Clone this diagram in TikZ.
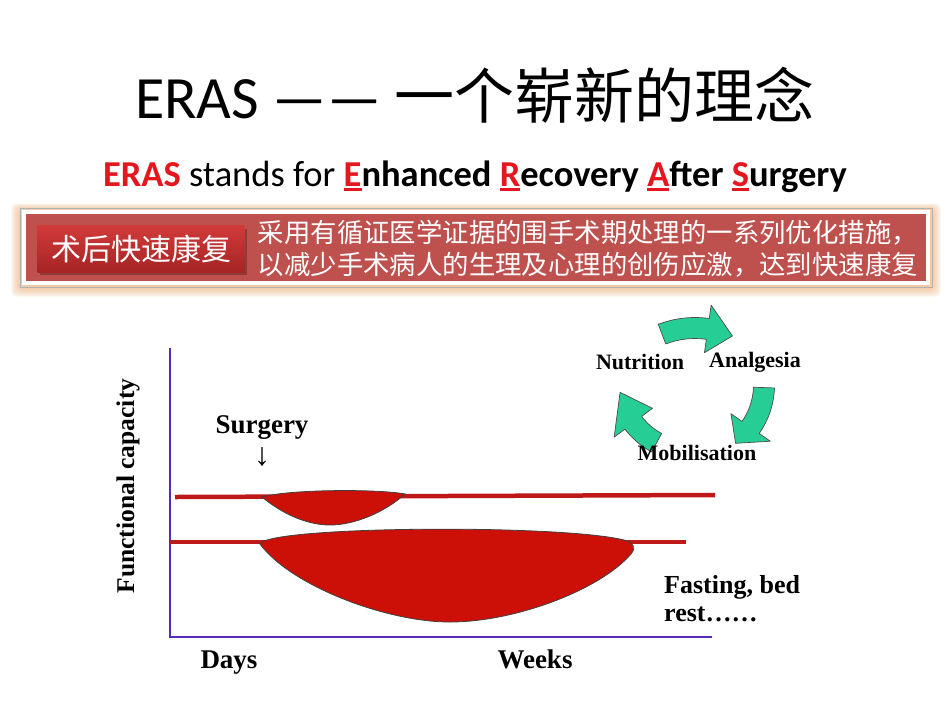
\documentclass[tikz,border=0pt]{standalone}
\usepackage{fontspec}
\setmainfont{Liberation Serif}
\newfontfamily\calibri{Carlito}
\newfontfamily\cjk{Noto Sans CJK SC}
\usetikzlibrary{positioning}
\definecolor{erasred}{RGB}{228,22,30}
\definecolor{bannerred}{RGB}{190,80,78}
\definecolor{btnred}{RGB}{210,58,58}
\definecolor{btndark}{RGB}{165,36,36}
\definecolor{glow}{RGB}{238,175,120}
\definecolor{curvered}{RGB}{204,16,8}
\definecolor{linered}{RGB}{190,24,24}
\definecolor{axisblue}{RGB}{88,42,185}
\definecolor{cyclegreen}{RGB}{38,206,150}
\newcommand{\keyletter}[1]{\textcolor{erasred}{\setbox0\hbox{#1}\rlap{\rule[-4pt]{\wd0}{2.8pt}}\box0}}
\tikzstyle{btnbox} = [rectangle, minimum width=207pt, minimum height=47pt, inner sep=0pt, top color=btnred, bottom color=btndark, text=white, font=\cjk\fontsize{30}{32}\selectfont]
\tikzstyle{desctext} = [inner sep=0pt, align=left, text=white, font=\cjk\fontsize{26.4}{32}\selectfont]
\tikzstyle{chartlabel} = [inner sep=0pt, font=\bfseries\fontsize{27}{29}\selectfont]
\tikzstyle{cyclelabel} = [inner sep=0pt, font=\bfseries\fontsize{22}{24}\selectfont]
\tikzstyle{axis} = [axisblue, line width=2.5pt]
\tikzstyle{level} = [linered, line width=4.5pt]
\tikzstyle{dip} = [fill=curvered, draw=black!75, line width=0.8pt]
\tikzstyle{cyclearrow} = [fill=cyclegreen, draw=black!70, line width=0.7pt, line join=round]

\begin{document}
\begin{tikzpicture}[x=1pt,y=-1pt]
    \useasboundingbox (0,0) rectangle (950,713);
    \fill[white] (0,0) rectangle (950,713);

    % title and subtitle
    \node (title) at (475,95) {\calibri\fontsize{60}{62}\selectfont ERAS —— \cjk 一个崭新的理念};
    \node (subtitle) at (475,177) {\calibri\bfseries\fontsize{36.5}{40}\selectfont
        \textcolor{erasred}{ERAS} {\mdseries stands for} \keyletter{E}nhanced \keyletter{R}ecovery \keyletter{A}fter \keyletter{S}urgery};

    % banner
    \foreach \i in {1,...,11}
        \fill[glow, opacity=0.09, rounded corners=6pt] (22-\i,211-0.7*\i) rectangle (930+\i,286+\i);
    \draw[gray!60, line width=0.6pt] (20,208) rectangle (932,287);
    \draw[white, line width=4pt, fill=bannerred] (24,212) rectangle (928,283);
    \fill[black, opacity=0.25] (40,229) rectangle (247,275);
    \node (btn) [btnbox] at (141,249) {术后快速康复};
    \node (desc) [desctext, right=13pt of btn] {采用有循证医学证据的围手术期处理的一系列优化措施，\\以减少手术病人的生理及心理的创伤应激，达到快速康复};

    % chart
    \draw[axis] (170,348) -- (170,637) -- (712,637);
    \node (ylabel) [chartlabel, rotate=90, font=\bfseries\fontsize{25.5}{27}\selectfont] at (128,486) {Functional capacity};
    \node (surgery) [chartlabel] at (262,428) {Surgery};
    \node (surgarrow) [inner sep=0pt, below=7pt of surgery, font=\fontsize{32}{32}\selectfont] {↓};
    \draw[level] (175,497) -- (715,495);
    \draw[level] (170,542) -- (686,542);
    \draw[dip] (262,497) .. controls (290,489) and (380,489) .. (405,494)
        .. controls (385,512) and (355,525) .. (330,525)
        .. controls (305,525) and (280,512) .. (262,497) -- cycle;
    \draw[dip] (260,544) .. controls (268,526) and (560,524) .. (624,540)
        .. controls (634,543) and (636,548) .. (631,554)
        .. controls (600,590) and (515,622) .. (450,622)
        .. controls (385,622) and (290,585) .. (260,544) -- cycle;
    \node (fasting) [chartlabel, anchor=west, align=left, font=\bfseries\fontsize{26}{28}\selectfont] at (664,599) {Fasting, bed\\rest……};
    \node (days) [chartlabel, anchor=base] at (229,668) {Days};
    \node (weeks) [chartlabel, anchor=base] at (535,668) {Weeks};

    % cycle
    \foreach \cx/\cy/\r/\a/\b/\h in {695/420/92/-111/-66/16, 690/385/74/2/52/17, 690/380/71/118/170/27}
        \filldraw[cyclearrow, shift={(\cx,\cy)}] (\a:\r-10.5) arc[start angle=\a, end angle=\b-\h, radius=\r-10.5]
            -- (\b-\h:\r-24) -- (\b:\r) -- (\b-\h:\r+24) -- (\b-\h:\r+10.5)
            arc[start angle=\b-\h, end angle=\a, radius=\r+10.5] -- cycle;
    \node (nutrition) [cyclelabel] at (640,362) {Nutrition};
    \node (analgesia) [cyclelabel] at (755,362) {Analgesia};
    \node (mobil) [cyclelabel] at (697,453) {Mobilisation};
\end{tikzpicture}
\end{document}
